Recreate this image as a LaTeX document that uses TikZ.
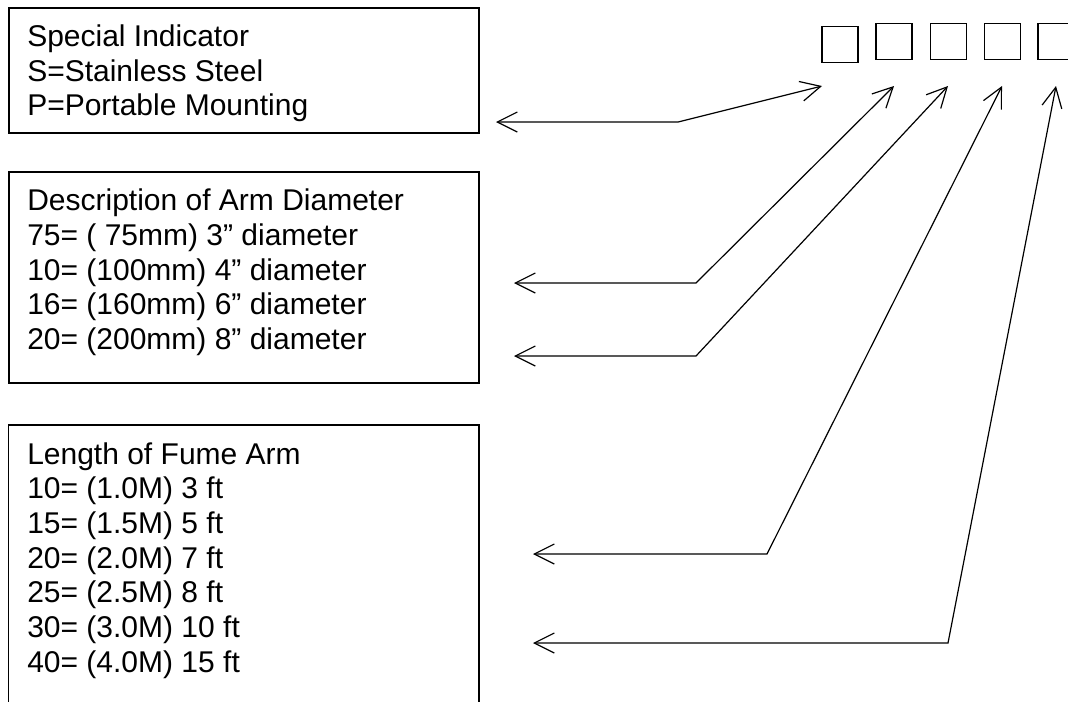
\documentclass[tikz,border=0pt]{standalone}
\usepackage{fontspec}
\setmainfont{Liberation Sans}
\usetikzlibrary{arrows.meta,fit}
\begin{document}
\begin{tikzpicture}[x=0.75pt,y=-0.75pt,
  boxframe/.style={draw, line width=0.9pt, inner sep=0pt},
  txt/.style={anchor=base west, inner sep=0pt, font=\fontsize{22.5pt}{27pt}\selectfont},
  sq/.style={draw, line width=1.1pt, minimum size=27pt, inner sep=0pt},
  lead/.style={line width=0.9pt, {Straight Barb[length=15pt,width=15pt]}-{Straight Barb[length=15pt,width=15pt]}}]
\useasboundingbox (0,0) rectangle (1068,701);
% boxes
\node[boxframe, fit={(9,8) (479,133)}] (box1) {};
\node[boxframe, fit={(9,172) (479,383)}] (box2) {};
\node[boxframe, fit={(8.5,425) (479,712)}] (box3) {};
% box 1 text
\node[txt] (b1l1) at (27,46) {Special Indicator};
\node[txt] (b1l2) at (27,81) {S=Stainless Steel};
\node[txt] (b1l3) at (27,115) {P=Portable Mounting};
% box 2 text
\node[txt] (b2l1) at (27,210) {Description of Arm Diameter};
\node[txt] (b2l2) at (27,245) {75= ( 75mm) 3” diameter};
\node[txt] (b2l3) at (27,280) {10= (100mm) 4” diameter};
\node[txt] (b2l4) at (27,314) {16= (160mm) 6” diameter};
\node[txt] (b2l5) at (27,349) {20= (200mm) 8” diameter};
% box 3 text
\node[txt] (b3l1) at (27,464) {Length of Fume Arm};
\node[txt] (b3l2) at (27,498.7) {10= (1.0M) 3 ft};
\node[txt] (b3l3) at (27,533.4) {15= (1.5M) 5 ft};
\node[txt] (b3l4) at (27,568.1) {20= (2.0M) 7 ft};
\node[txt] (b3l5) at (27,602.8) {25= (2.5M) 8 ft};
\node[txt] (b3l6) at (27,637.5) {30= (3.0M) 10 ft};
\node[txt] (b3l7) at (27,672.2) {40= (4.0M) 15 ft};
% squares
\node[sq] (s1) at (840,44.5) {};
\node[sq] (s2) at (894,41.5) {};
\node[sq] (s3) at (948.5,41.5) {};
\node[sq] (s4) at (1002.5,41.5) {};
\node[sq] (s5) at (1056,41.5) {};
% connector points
\coordinate (a1l) at (496,122); \coordinate (a1c) at (678,122); \coordinate (a1r) at (822,86);
\coordinate (a2l) at (514,283); \coordinate (a2c) at (696,283); \coordinate (a2r) at (894,86);
\coordinate (a3l) at (514,356); \coordinate (a3c) at (696,356); \coordinate (a3r) at (948,86);
\coordinate (a4l) at (533,554); \coordinate (a4c) at (767,554); \coordinate (a4r) at (1002,86);
\coordinate (a5l) at (533,643); \coordinate (a5c) at (948,643); \coordinate (a5r) at (1056,86);
\draw[lead] (a1l) -- (a1c) -- (a1r);
\draw[lead] (a2l) -- (a2c) -- (a2r);
\draw[lead] (a3l) -- (a3c) -- (a3r);
\draw[lead] (a4l) -- (a4c) -- (a4r);
\draw[lead] (a5l) -- (a5c) -- (a5r);
\end{tikzpicture}
\end{document}
